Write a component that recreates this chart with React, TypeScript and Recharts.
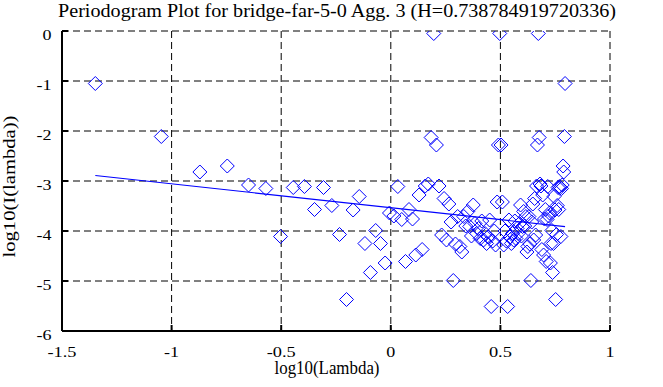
import React from 'react';
import { ScatterChart, Scatter, XAxis, YAxis, CartesianGrid } from 'recharts';

// log10(Lambda) for each periodogram ordinate
const logLambda = [
  -1.348, -1.047, -0.871, -0.746, -0.649, -0.570, -0.503, -0.445, -0.394, -0.348,
  -0.307, -0.269, -0.234, -0.202, -0.172, -0.144, -0.118, -0.093, -0.069, -0.047,
  -0.026, -0.006, 0.014, 0.032, 0.050, 0.067, 0.083, 0.099, 0.114, 0.129,
  0.143, 0.157, 0.171, 0.184, 0.196, 0.208, 0.220, 0.232, 0.243, 0.254,
  0.265, 0.275, 0.285, 0.295, 0.305, 0.315, 0.324, 0.333, 0.342, 0.351,
  0.360, 0.368, 0.376, 0.384, 0.392, 0.400, 0.408, 0.415, 0.423, 0.430,
  0.437, 0.444, 0.451, 0.458, 0.465, 0.472, 0.478, 0.485, 0.491, 0.497,
  0.503, 0.509, 0.515, 0.521, 0.527, 0.533, 0.539, 0.544, 0.550, 0.555,
  0.561, 0.566, 0.571, 0.576, 0.581, 0.587, 0.592, 0.596, 0.601, 0.606,
  0.611, 0.616, 0.621, 0.625, 0.630, 0.634, 0.639, 0.643, 0.648, 0.652,
  0.656, 0.661, 0.665, 0.669, 0.673, 0.677, 0.681, 0.685, 0.689, 0.693,
  0.697, 0.701, 0.705, 0.709, 0.713, 0.716, 0.720, 0.724, 0.728, 0.731,
  0.735, 0.738, 0.742, 0.745, 0.749, 0.752, 0.756, 0.759, 0.763, 0.766,
  0.769, 0.773, 0.776, 0.779, 0.782, 0.786, 0.789, 0.792, 0.795,
];

// log10(I(lambda))
const logI = [
  -1.05, -2.11, -2.82, -2.70, -3.08, -3.15, -4.11, -3.13, -3.11, -3.57,
  -3.13, -3.49, -4.07, -5.37, -3.58, -3.31, -4.25, -4.83, -3.99, -4.25,
  -4.64, -3.64, -3.70, -3.11, -3.77, -4.61, -3.57, -3.76, -4.48, -3.28,
  -4.37, -3.10, -3.06, -2.13, -0.05, -2.28, -3.10, -4.08, -3.35, -4.18,
  -3.46, -3.82, -4.99, -4.26, -3.71, -4.31, -4.42, -3.71, -3.90, -3.61,
  -3.91, -4.10, -3.48, -3.85, -4.05, -3.95, -4.15, -3.80, -4.18, -4.05,
  -4.25, -4.12, -3.78, -5.51, -4.20, -4.00, -4.28, -3.42, -2.28, -0.05,
  -2.28, -3.42, -4.28, -4.00, -4.20, -5.51, -3.78, -4.12, -4.25, -4.05,
  -4.18, -3.80, -4.15, -3.95, -4.05, -3.85, -3.48, -4.10, -3.91, -3.61,
  -3.90, -3.71, -4.42, -4.31, -3.71, -4.26, -4.99, -3.82, -3.46, -4.18,
  -3.35, -4.08, -3.10, -2.28, -0.05, -2.13, -3.06, -3.10, -4.37, -3.28,
  -4.48, -3.76, -3.57, -4.61, -3.77, -3.11, -3.70, -3.64, -4.64, -4.25,
  -3.99, -4.83, -4.25, -3.31, -3.58, -5.37, -4.07, -3.49, -3.13, -3.57,
  -3.11, -3.13, -4.11, -3.15, -3.08, -2.70, -2.82, -2.11, -1.05,
];

// least-squares fit line end points
const fitX = [-1.348, 0.795];
const fitY = [-2.890, -3.914];

const xTicks = [-1.5, -1, -0.5, 0, 0.5, 1];
const yTicks = [-6, -5, -4, -3, -2, -1, 0];

const TITLE = 'Periodogram Plot for bridge-far-5-0 Agg. 3 (H=0.738784919720336)';
const X_LABEL = 'log10(Lambda)';
const Y_LABEL = 'log10(I(lambda))';

const points = logLambda.map((x, i) => ({ x, y: logI[i] }));
const fitLine = fitX.map((x, i) => ({ x, y: fitY[i] }));

const FONT = '"Liberation Serif", "Times New Roman", serif';
const BLUE = '#0000ff';

const W = 663;
const H = 387;
const PLOT_BOTTOM = 331;

function labelLen(s: string): number {
  let w = 0;
  for (const ch of s) {
    if (ch === '-') w += 6;
    else if (ch === '.') w += 5;
    else w += 9;
  }
  return w;
}

const fmt = (v: number) => String(v);

const XTick = (props: any) => {
  const { x, payload } = props;
  const s = fmt(payload.value);
  return (
    <text x={x} y={PLOT_BOTTOM + 26} textAnchor="middle" fontFamily={FONT} fontSize={15}
      fill="#000" textLength={labelLen(s)} lengthAdjust="spacingAndGlyphs">{s}</text>
  );
};

const YTick = (props: any) => {
  const { y, payload } = props;
  const s = fmt(payload.value);
  return (
    <text x={51.5} y={y + 8.5} textAnchor="end" fontFamily={FONT} fontSize={15}
      fill="#000" textLength={labelLen(s)} lengthAdjust="spacingAndGlyphs">{s}</text>
  );
};

const Diamond = (props: any) => {
  const { cx, cy } = props;
  if (cx == null || cy == null) return <g />;
  const r = 7;
  return (
    <path d={`M${cx},${cy - r}L${cx + r},${cy}L${cx},${cy + r}L${cx - r},${cy}Z`}
      fill="none" stroke={BLUE} strokeWidth={1} />
  );
};

const NoDot = () => <g />;

const axisLineStyle = { stroke: '#000', strokeWidth: 2 };
const tickLineStyle = { stroke: '#000', strokeWidth: 2 };

export default function App() {
  return (
    <div style={{ position: 'absolute', left: 0, top: 0, width: W, height: H, background: '#fff' }}>
      <ScatterChart width={W} height={H} margin={{ top: 31, right: 53, bottom: 26, left: 12 }}>
        <CartesianGrid stroke="#000" strokeWidth={1} strokeDasharray="7 4" />
        <XAxis dataKey="x" type="number" domain={[-1.5, 1]} ticks={xTicks} interval={0}
          allowDataOverflow height={30} axisLine={axisLineStyle} tickLine={tickLineStyle}
          tickSize={-6} tick={<XTick />} />
        <XAxis xAxisId="top" orientation="top" type="number" domain={[-1.5, 1]} ticks={xTicks}
          interval={0} allowDataOverflow height={0} axisLine={axisLineStyle} tickLine={tickLineStyle}
          tickSize={-6} tick={false} />
        <YAxis dataKey="y" type="number" domain={[-6, 0]} ticks={yTicks} interval={0}
          allowDataOverflow width={50} axisLine={axisLineStyle} tickLine={tickLineStyle}
          tickSize={-6} tick={<YTick />} />
        <YAxis yAxisId="right" orientation="right" type="number" domain={[-6, 0]} ticks={yTicks}
          interval={0} allowDataOverflow width={0} axisLine={axisLineStyle} tickLine={tickLineStyle}
          tickSize={-6} tick={false} />
        <Scatter data={points} shape={Diamond} isAnimationActive={false} />
        <Scatter data={fitLine} shape={NoDot} line={{ stroke: BLUE, strokeWidth: 1.2 }}
          lineType="joint" isAnimationActive={false} />
      </ScatterChart>
      <svg width={W} height={H} style={{ position: 'absolute', left: 0, top: 0, pointerEvents: 'none' }}>
        <text x={337} y={17} textAnchor="middle" fontFamily={FONT} fontSize={18} fill="#000"
          textLength={558} lengthAdjust="spacingAndGlyphs">{TITLE}</text>
        <text x={327} y={374} textAnchor="middle" fontFamily={FONT} fontSize={18} fill="#000"
          textLength={105} lengthAdjust="spacingAndGlyphs">{X_LABEL}</text>
        <text x={0} y={0} transform="translate(15,186.5) rotate(-90)" textAnchor="middle"
          fontFamily={FONT} fontSize={17} fill="#000" textLength={142}
          lengthAdjust="spacingAndGlyphs">{Y_LABEL}</text>
      </svg>
    </div>
  );
}
